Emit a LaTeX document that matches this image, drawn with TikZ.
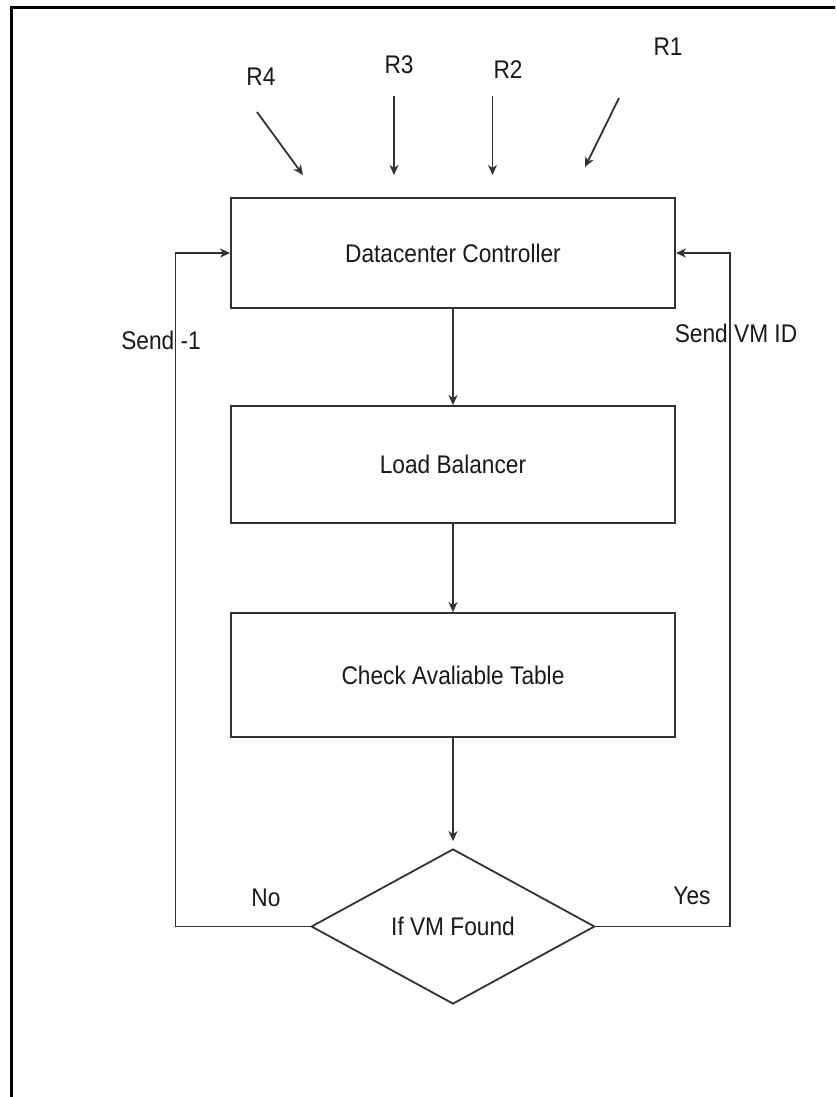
\documentclass[tikz,border=0pt]{standalone}
\usepackage{fontspec}
\setmainfont{Liberation Sans}[FakeStretch=0.89]
\usetikzlibrary{shapes.geometric,arrows.meta}
\begin{document}
\begin{tikzpicture}[x=1pt,y=-1pt,
  font=\fontsize{25.5}{30}\selectfont,
  line/.style={draw=black!80, line width=1.8pt},
  arr/.style={line, -{Stealth[length=10pt,width=9pt,inset=3pt]}},
  procbox/.style={line, rectangle, minimum width=444pt, inner sep=0pt, text=black!90},
  decision/.style={line, diamond, aspect=1.83, minimum width=283.5pt,
                   minimum height=155pt, inner sep=0pt, text=black!90},
  lbl/.style={inner sep=0pt, text=black!90}]
\useasboundingbox (0,0) rectangle (835,1097);
\clip (0,0) rectangle (835,1097);
\fill[white] (0,0) rectangle (835,1097);
% frame
\draw[black, line width=3pt] (11,1110) -- (11,8) -- (850,8);

% process steps
\node[procbox, minimum height=110pt] (dc) at (453,253) {Datacenter Controller};
\node[procbox, minimum height=117pt] (lb) at (453,464.5) {Load Balancer};
\node[procbox, minimum height=124pt] (ct) at (453,675) {Check Avaliable Table};
\node[decision] (vm) at (453,926.5) {If VM Found};

\draw[arr] (dc) -- (lb);
\draw[arr] (lb) -- (ct);
\draw[arr, shorten >=7pt] (ct) -- (vm);

% feedback loops
\coordinate (lc) at (175.5,926.5);
\coordinate (rc) at (730,926.5);
\draw[arr] (vm.west) -- (lc) |- (dc.west);
\draw[arr] (vm.east) -- (rc) |- (dc.east);

\node[lbl] (no) at (266,898) {No};
\node[lbl] (yes) at (692,896) {Yes};
\node[lbl] (s1) at (161,340) {Send -1};
\node[lbl] (sid) at (736,333) {Send VM ID};

% incoming requests
\node[lbl] (r4) at (261,77) {R4};
\node[lbl] (r3) at (399,65) {R3};
\node[lbl] (r2) at (508,70) {R2};
\node[lbl] (r1) at (668,47) {R1};
\coordinate (r4s) at (257,112);  \coordinate (r4e) at (303,175);
\coordinate (r3s) at (394,96);   \coordinate (r3e) at (394,175);
\coordinate (r2s) at (492.5,96); \coordinate (r2e) at (492.5,175);
\coordinate (r1s) at (619,98);   \coordinate (r1e) at (585,167);
\draw[arr] (r4s) -- (r4e);
\draw[arr] (r3s) -- (r3e);
\draw[arr] (r2s) -- (r2e);
\draw[arr] (r1s) -- (r1e);
\end{tikzpicture}
\end{document}
